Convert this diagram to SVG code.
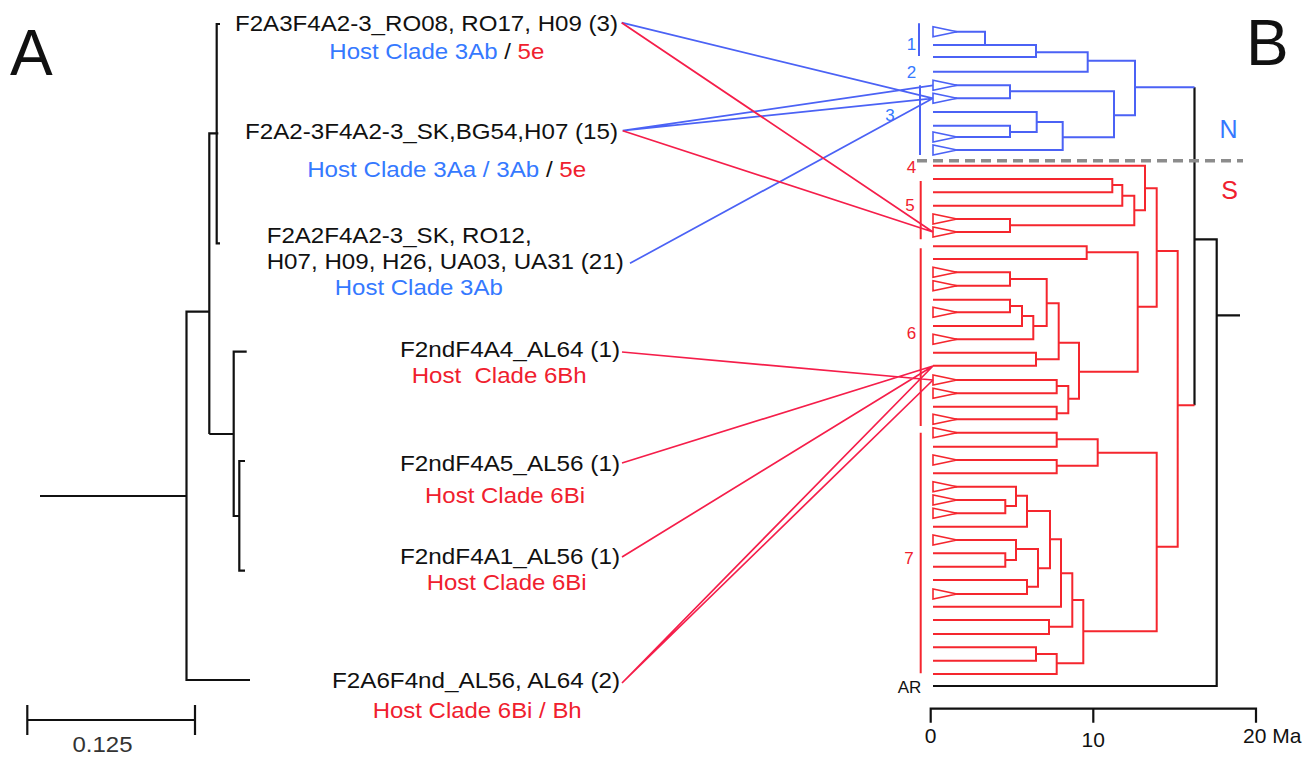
<svg xmlns="http://www.w3.org/2000/svg" xmlns:xlink="http://www.w3.org/1999/xlink" width="1315" height="759" viewBox="0 0 1315 759">
<style>
text{font-family:"Liberation Sans",Arial,sans-serif;}
.lbl{font-size:22px;fill:#111;}
.tb{fill:#3579ff;}
.tr{fill:#f0202e;}
.k{fill:none;stroke:#111;stroke-width:2.2;}
.bt{fill:none;stroke:#4b62f5;stroke-width:2;}
.rt{fill:none;stroke:#f5262e;stroke-width:2;}
.btri{fill:#fff;stroke:#4b62f5;stroke-width:1.6;}
.rtri{fill:#fff;stroke:#f5262e;stroke-width:1.6;}
.cb{stroke:#4b62f5;stroke-width:1.7;fill:none;}
.cr{stroke:#f51e4a;stroke-width:1.7;fill:none;}
.num{font-size:17px;}
.ax{font-size:21px;fill:#111;}
.big{font-size:64px;fill:#111;}
</style>
<defs>
<path id="tri" d="M0,-5V5L24,0Z"/>
</defs>

<text class="big" x="10" y="75">A</text>
<text class="big" x="1246" y="65">B</text>

<g id="tree-A">
<path class="k" d="M220,24H216.7V243.3H220M218.3,133.3H209.3V434M209.3,311.7H186.5V680H250M186.5,496H40M209.3,434H233.7M246.7,351.7H233.7V516H239.3M245,461H239.3V570.7H245"/>
<path class="k" d="M27.3,705V735M27.3,720H195M195,705V735"/>
<text x="102.5" y="752" text-anchor="middle" style="font-size:22px;fill:#333" textLength="60" lengthAdjust="spacingAndGlyphs">0.125</text>
</g>

<g id="label-1">
<text class="lbl" x="618" y="31" text-anchor="end" textLength="383" lengthAdjust="spacingAndGlyphs">F2A3F4A2-3_RO08, RO17, H09 (3)</text>
<text class="lbl" x="436.8" y="58.5" text-anchor="middle" textLength="215" lengthAdjust="spacingAndGlyphs"><tspan class="tb">Host Clade 3Ab</tspan> / <tspan class="tr">5e</tspan></text>
</g>
<g id="label-2">
<text class="lbl" x="618" y="138.5" text-anchor="end" textLength="373" lengthAdjust="spacingAndGlyphs">F2A2-3F4A2-3_SK,BG54,H07 (15)</text>
<text class="lbl" x="446.7" y="177" text-anchor="middle" textLength="279" lengthAdjust="spacingAndGlyphs"><tspan class="tb">Host Clade 3Aa / 3Ab</tspan> / <tspan class="tr">5e</tspan></text>
</g>
<g id="label-3">
<text class="lbl" x="266.7" y="243" textLength="265" lengthAdjust="spacingAndGlyphs">F2A2F4A2-3_SK, RO12,</text>
<text class="lbl" x="266.7" y="268.5" textLength="357" lengthAdjust="spacingAndGlyphs">H07, H09, H26, UA03, UA31 (21)</text>
<text class="lbl tb" x="418.8" y="294.5" text-anchor="middle" textLength="168" lengthAdjust="spacingAndGlyphs">Host Clade 3Ab</text>
</g>
<g id="label-4">
<text class="lbl" x="620" y="357" text-anchor="end" textLength="220" lengthAdjust="spacingAndGlyphs">F2ndF4A4_AL64 (1)</text>
<text class="lbl tr" x="499.2" y="382.5" text-anchor="middle" textLength="175" lengthAdjust="spacingAndGlyphs">Host&#160; Clade 6Bh</text>
</g>
<g id="label-5">
<text class="lbl" x="620" y="470.5" text-anchor="end" textLength="220" lengthAdjust="spacingAndGlyphs">F2ndF4A5_AL56 (1)</text>
<text class="lbl tr" x="505" y="503" text-anchor="middle" textLength="160" lengthAdjust="spacingAndGlyphs">Host Clade 6Bi</text>
</g>
<g id="label-6">
<text class="lbl" x="620" y="564" text-anchor="end" textLength="220" lengthAdjust="spacingAndGlyphs">F2ndF4A1_AL56 (1)</text>
<text class="lbl tr" x="506.7" y="590" text-anchor="middle" textLength="160" lengthAdjust="spacingAndGlyphs">Host Clade 6Bi</text>
</g>
<g id="label-7">
<text class="lbl" x="620" y="688" text-anchor="end" textLength="288" lengthAdjust="spacingAndGlyphs">F2A6F4nd_AL56, AL64 (2)</text>
<text class="lbl tr" x="477.2" y="718" text-anchor="middle" textLength="209" lengthAdjust="spacingAndGlyphs">Host Clade 6Bi / Bh</text>
</g>

<g id="tree-B">
<path class="k" d="M1194.5,87.3V405.3M1194.5,239.3H1216.7V686H933M1216.7,315.3H1240"/>
<path class="bt" d="M933,31.7H985V45M933,45H1036V57H933M1036,52.3H1087.7V71.7H933M1087.7,60.7H1135V115.3H1114M1135,87.3H1194.5M933,85.3H1010V98.3H933M1010,91.3H1114V137.3H1062.7M933,112H1036.7V132H1010M933,125.7H1010V137H933M1036.7,122H1062.7V150H933"/>
<path class="rt" d="M933,165.7H1145V210.3H1134.3M1145,188.3H1156.7V306.7H1137.7M933,179H1112.3V192.3H933M1112.3,185H1122.3V205.7H933M1122.3,195.7H1134.3V225.3H1010M933,219H1010V232H933M933,246.3H1086.7V259H933M1086.7,252.3H1137.7V371.7H1079M1156.7,251H1177.7V546.7H1156.7M1177.7,405.3H1194.5M933,272.3H1010V285.7H933M1010,279H1046.7V326H1033.3M933,299.7H1010V312.3H933M1010,306H1022V326H933M1022,316H1033.3V339.3H933M1046.7,303.3H1058.7V359.3H1036M933,352.7H1036V365.7H933M1058.7,342.7H1079V398.7H1068.3M933,380H1056.7V393.3H933M1056.7,386H1068.3V413.3H1056.7M933,406.7H1056.7V419.3H933M933,432.7H1056.7V446.7H933M1056.7,439.3H1097.7V465.7H1056.7M933,460H1056.7V473.3H933M1097.7,452.7H1156.7V631.3H1083.3M933,486.7H1016V506H1005.3M933,500H1005.3V513.3H933M1016,495.7H1027V526.7H933M1027,511H1050V568.3H1038M1050,539.3H1061V606.7H933M933,540H1016V560H1005.3M933,553.3H1005.3V566.7H933M1016,549H1038V586.7H1027M933,580H1027V594H933M1061,573.3H1072.3V626.7H1049M933,620H1049V634H933M1072.3,600H1083.3V663.3H1056.7M933,647.3H1036V660.7H933M1036,654H1056.7V674H933"/>
<g class="btri">
<use xlink:href="#tri" x="933" y="31.7"/>
<use xlink:href="#tri" x="933" y="85.3"/>
<use xlink:href="#tri" x="933" y="98.3"/>
<use xlink:href="#tri" x="933" y="137"/>
<use xlink:href="#tri" x="933" y="150"/>
</g>
<g class="rtri">
<use xlink:href="#tri" x="933" y="219"/>
<use xlink:href="#tri" x="933" y="232"/>
<use xlink:href="#tri" x="933" y="272.3"/>
<use xlink:href="#tri" x="933" y="285.7"/>
<use xlink:href="#tri" x="933" y="312.3"/>
<use xlink:href="#tri" x="933" y="339.3"/>
<use xlink:href="#tri" x="933" y="380"/>
<use xlink:href="#tri" x="933" y="393.3"/>
<use xlink:href="#tri" x="933" y="419.3"/>
<use xlink:href="#tri" x="933" y="432.7"/>
<use xlink:href="#tri" x="933" y="460"/>
<use xlink:href="#tri" x="933" y="486.7"/>
<use xlink:href="#tri" x="933" y="500"/>
<use xlink:href="#tri" x="933" y="513.3"/>
<use xlink:href="#tri" x="933" y="540"/>
<use xlink:href="#tri" x="933" y="594"/>
</g>
<path class="bt" d="M919,23.3V56M920,85.3V155"/>
<path class="rt" d="M920.7,181V239.3M920.7,248.3V426M920.7,432.7V673.3"/>
<path d="M917,160.7H1243" stroke="#8c8c8c" stroke-width="3.5" stroke-dasharray="10,6" fill="none"/>
<g class="num tb">
<text x="911.5" y="49.5" text-anchor="middle">1</text>
<text x="911.5" y="77.5" text-anchor="middle">2</text>
<text x="890" y="121" text-anchor="middle">3</text>
</g>
<g class="num tr">
<text x="911.5" y="172.5" text-anchor="middle">4</text>
<text x="910" y="211" text-anchor="middle">5</text>
<text x="911.5" y="339" text-anchor="middle">6</text>
<text x="909" y="564" text-anchor="middle">7</text>
</g>
<text class="num" x="909.5" y="692.5" text-anchor="middle" fill="#111">AR</text>
<text x="1228.5" y="138" text-anchor="middle" style="font-size:25px" class="tb">N</text>
<text x="1229.5" y="199" text-anchor="middle" style="font-size:25px" class="tr">S</text>
<path class="k" d="M930.7,722.7V708.7H1256V722.7M1093.3,708.7V722.7"/>
<text class="ax" x="930.7" y="743" text-anchor="middle">0</text>
<text class="ax" x="1093.3" y="747" text-anchor="middle">10</text>
<text class="ax" x="1243" y="743">20 Ma</text>
</g>

<g id="connectors">
<path class="cb" d="M621.7,22.7L933,98.3M622.7,130.7L933,85.3M622.7,130.7L933,98.3M630,263.3L933,98.3"/>
<path class="cr" d="M621.7,22.7L933,232M622.7,130.7L933,232M622,352L933,380M622,463L933,366M622,557L933,366M622,683L933,366M622,683L933,380"/>
</g>
</svg>
